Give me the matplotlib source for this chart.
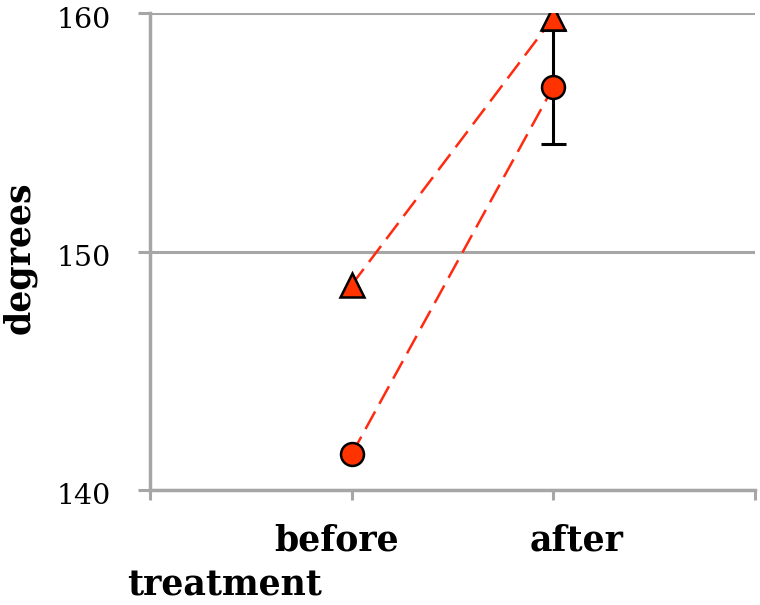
import matplotlib
matplotlib.use("Agg")
import matplotlib.pyplot as plt
import matplotlib.transforms as mtransforms

# data
groups = ["before", "after"]
xpos = [1, 2]
tri_vals = [148.6, 159.8]
circ_vals = [141.5, 156.9]
circ_err = [0, 2.4]
yticks = [140, 150, 160]
label_shift = [-15, 23]  # the category labels sit a bit off their ticks (pixels)

plt.rcParams['font.family'] = ['DejaVu Serif']

fig = plt.figure(figsize=(7.6, 6.05), dpi=100)
ax = fig.add_axes([150/760, 1 - 490/605, 605/760, 477/605])

grey = '#a6a6a6'
ax.set_xlim(0, 3)
ax.set_ylim(140, 160)
ax.set_yticks(yticks)
ax.set_yticklabels([str(v) for v in yticks], fontsize=20.5, va='center')
ax.set_xticks([0, 1, 2, 3])
ax.set_xticklabels([''] + groups + [''], fontsize=25, fontweight='bold')
ax.tick_params(axis='y', length=9, width=2.2, color=grey, pad=19)
ax.tick_params(axis='x', length=7, width=2.2, color=grey, pad=17)

# nudge the tick labels like in the original
for lab in ax.get_yticklabels():
    lab.set_transform(lab.get_transform() +
                      mtransforms.ScaledTranslation(0, -7/100, fig.dpi_scale_trans))
xlabs = ax.get_xticklabels()
for lab, dx in zip(xlabs[1:3], label_shift):
    lab.set_transform(lab.get_transform() +
                      mtransforms.ScaledTranslation(dx/100, 0, fig.dpi_scale_trans))

ax.yaxis.grid(True, color=grey, linewidth=2.2)
ax.set_axisbelow(True)
for s in ['top', 'right']:
    ax.spines[s].set_visible(False)
for s in ['left', 'bottom']:
    ax.spines[s].set_color(grey)
    ax.spines[s].set_linewidth(2.5)

ax.plot(xpos, tri_vals, '--', color='#ff2a10', lw=1.8, dashes=(8, 3.5), zorder=3)
ax.plot(xpos, circ_vals, '--', color='#ff2a10', lw=1.8, dashes=(8, 3.5), zorder=3)
ax.errorbar(xpos[1:], circ_vals[1:], yerr=circ_err[1:], fmt='none', ecolor='black',
            elinewidth=2.2, capsize=9, capthick=2.2, zorder=4)
ax.plot(xpos, tri_vals, '^', ms=17, mfc='#ff3300', mec='black', mew=1.8, ls='none', zorder=5)
ax.plot(xpos, circ_vals, 'o', ms=16.5, mfc='#ff3300', mec='black', mew=1.8, ls='none', zorder=5)

fig.text(19/760, 1 - 258/605, 'degrees', fontsize=25, fontweight='bold',
         rotation=90, ha='center', va='center')
fig.text(225/760, 1 - 585/605, 'treatment', fontsize=25, fontweight='bold',
         ha='center', va='center')

fig.savefig('out.png', dpi=100)
